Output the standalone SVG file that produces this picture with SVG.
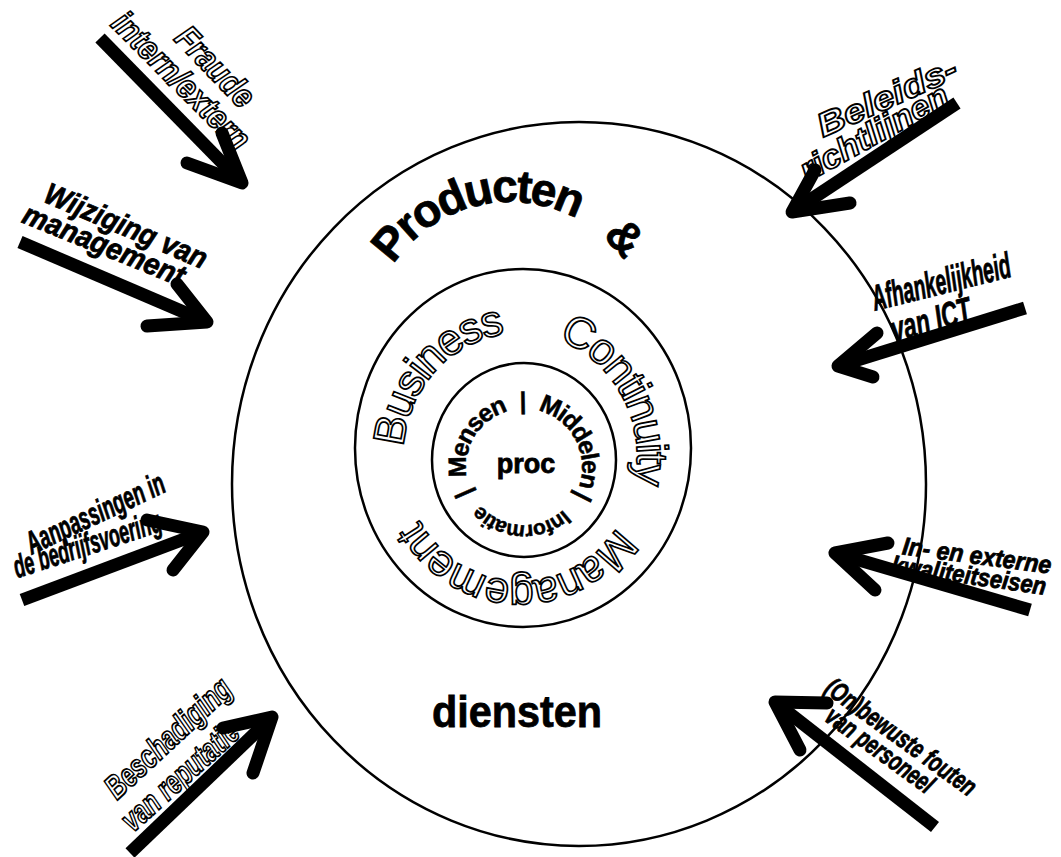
<svg xmlns="http://www.w3.org/2000/svg" width="1061" height="857" viewBox="0 0 1061 857">
  <style>
    .ring { fill: none; stroke: #000; stroke-width: 2.5; }
    .lbl { font-family: "Liberation Sans", Arial, sans-serif; font-weight: bold; font-style: italic; text-anchor: middle; }
    .solid { fill: #000; stroke: #000; stroke-width: 0.8; }
    .hollow { fill: #fff; stroke: #000; stroke-width: 1.8; }
    .bold { font-family: "Liberation Sans", Arial, sans-serif; font-weight: bold; fill: #000; stroke: #000; stroke-width: 0.8; }
    .bcm { font-family: "Liberation Sans", Arial, sans-serif; font-size: 44px; letter-spacing: -2px; fill: #fff; stroke: #000; stroke-width: 1.7; }
    .inner { font-family: "Liberation Sans", Arial, sans-serif; font-weight: bold; fill: #000; stroke: #000; stroke-width: 0.5; }
    .shaft { fill: none; stroke: #000; stroke-width: 13; stroke-linecap: butt; }
    .head { fill: none; stroke: #000; stroke-width: 13; stroke-linecap: round; stroke-linejoin: round; }
  </style>
  <defs>
    <!-- baseline arcs for the curved ring texts -->
    <path id="arcOuter" d="M370,342 A140,140 0 0 1 650,342"/>
    <path id="arcMiddle" d="M403,457 A117,124 0 1 1 637,457 A117,124 0 1 1 403,457"/>
    <path id="arcInner" d="M473.77,496 A58,58 0 1 1 574.23,438 A58,58 0 1 1 473.77,496"/>
  </defs>
  <rect width="1061" height="857" fill="#fff"/>

  <!-- outer ring: products and services -->
  <g id="ring-outer">
    <ellipse class="ring" cx="579" cy="484" rx="347" ry="362"/>
    <text class="bold" font-size="46" letter-spacing="-2.5"><textPath href="#arcOuter" startOffset="82">Producten</textPath></text>
    <text class="bold" font-size="46"><textPath href="#arcOuter" startOffset="320">&amp;</textPath></text>
    <text class="bold" x="517" y="727" font-size="44" text-anchor="middle" textLength="170" lengthAdjust="spacingAndGlyphs">diensten</text>
  </g>

  <!-- middle ring: Business Continuity Management -->
  <g id="ring-middle">
    <ellipse class="ring" cx="523" cy="448" rx="168" ry="179"/>
    <text class="bcm"><textPath href="#arcMiddle" startOffset="10">Business</textPath></text>
    <text class="bcm"><textPath href="#arcMiddle" startOffset="228">Continuity</textPath></text>
    <text class="bcm"><textPath href="#arcMiddle" startOffset="452">Management</textPath></text>
  </g>

  <!-- inner ring: people, means, information -->
  <g id="ring-inner">
    <ellipse class="ring" cx="524" cy="460" rx="92" ry="97"/>
    <text class="inner" font-size="24"><textPath href="#arcInner" startOffset="3">|</textPath></text>
    <text class="inner" font-size="25" letter-spacing="-1.5"><textPath href="#arcInner" startOffset="20">Mensen</textPath></text>
    <text class="inner" font-size="24"><textPath href="#arcInner" startOffset="117">|</textPath></text>
    <text class="inner" font-size="25" letter-spacing="-1.5"><textPath href="#arcInner" startOffset="135">Middelen</textPath></text>
    <text class="inner" font-size="24"><textPath href="#arcInner" startOffset="236">|</textPath></text>
    <text class="inner" font-size="21" letter-spacing="-1"><textPath href="#arcInner" startOffset="260">Informatie</textPath></text>
    <text class="bold" x="526" y="473" font-size="27" text-anchor="middle">proc</text>
  </g>

  <!-- threat labels -->
  <g id="label-fraude">
    <text class="lbl hollow" font-size="34" transform="translate(215,67) rotate(46)" y="11" textLength="98" lengthAdjust="spacingAndGlyphs">Fraude</text>
    <text class="lbl hollow" font-size="34" transform="translate(181,81) rotate(45)" y="11" textLength="180" lengthAdjust="spacingAndGlyphs">intern/extern</text>
  </g>
  <g id="label-wijziging">
    <text class="lbl solid" font-size="30" transform="translate(126,226) rotate(23)" y="10" textLength="174" lengthAdjust="spacingAndGlyphs">Wijziging van</text>
    <text class="lbl solid" font-size="30" transform="translate(104,245) rotate(22)" y="10" textLength="172" lengthAdjust="spacingAndGlyphs">management</text>
  </g>
  <g id="label-beleid">
    <text class="lbl hollow" font-size="33" transform="translate(887,97) rotate(-24)" y="11" textLength="150" lengthAdjust="spacingAndGlyphs">Beleids-</text>
    <text class="lbl hollow" font-size="33" transform="translate(874,133) rotate(-29)" y="11" textLength="165" lengthAdjust="spacingAndGlyphs">richtlijnen</text>
  </g>
  <g id="label-ict">
    <text class="lbl solid" font-size="36" transform="translate(941,282) rotate(-14)" y="12" textLength="142" lengthAdjust="spacingAndGlyphs">Afhankelijkheid</text>
    <text class="lbl solid" font-size="36" transform="translate(931,320) rotate(-15)" y="12" textLength="82" lengthAdjust="spacingAndGlyphs">van ICT</text>
  </g>
  <g id="label-aanpassingen">
    <text class="lbl solid" font-size="32" transform="translate(95,513) rotate(-25)" y="11" textLength="150" lengthAdjust="spacingAndGlyphs">Aanpassingen in</text>
    <text class="lbl solid" font-size="32" transform="translate(87,544) rotate(-18)" y="11" textLength="154" lengthAdjust="spacingAndGlyphs">de bedrijfsvoering</text>
  </g>
  <g id="label-kwaliteit">
    <text class="lbl solid" font-size="25" transform="translate(977,555) rotate(7.5)" y="9" textLength="150" lengthAdjust="spacingAndGlyphs">In- en externe</text>
    <text class="lbl solid" font-size="25" transform="translate(969,575) rotate(8)" y="9" textLength="156" lengthAdjust="spacingAndGlyphs">kwaliteitseisen</text>
  </g>
  <g id="label-reputatie">
    <text class="lbl hollow" font-size="33" transform="translate(168,738) rotate(-43)" y="11" textLength="160" lengthAdjust="spacingAndGlyphs">Beschadiging</text>
    <text class="lbl hollow" font-size="33" transform="translate(180,776) rotate(-42)" y="11" textLength="146" lengthAdjust="spacingAndGlyphs">van reputatie</text>
  </g>
  <g id="label-fouten">
    <text class="lbl solid" font-size="27" transform="translate(901,737) rotate(36)" y="9" textLength="180" lengthAdjust="spacingAndGlyphs">(On)bewuste fouten</text>
    <text class="lbl solid" font-size="27" transform="translate(880,750) rotate(36)" y="9" textLength="127" lengthAdjust="spacingAndGlyphs">van personeel</text>
  </g>

  <!-- arrows pointing at the rings -->
  <g id="connectors">
    <line class="shaft" x1="100" y1="38" x2="242" y2="183"/>
    <polyline class="head" points="187,163 242,183 222,133"/>

    <line class="shaft" x1="20" y1="242" x2="207" y2="322"/>
    <polyline class="head" points="147,326 207,322 177,284"/>

    <line class="shaft" x1="957" y1="103" x2="792" y2="212"/>
    <polyline class="head" points="815,170 792,212 850,203"/>

    <line class="shaft" x1="1025" y1="308" x2="838" y2="366"/>
    <polyline class="head" points="877,333 838,366 873,377"/>

    <line class="shaft" x1="22" y1="600" x2="203" y2="532"/>
    <polyline class="head" points="147,520 203,532 173,570"/>

    <line class="shaft" x1="1030" y1="610" x2="835" y2="553"/>
    <polyline class="head" points="888,543 835,553 875,590"/>

    <line class="shaft" x1="130" y1="853" x2="272" y2="717"/>
    <polyline class="head" points="223,728 272,717 253,773"/>

    <line class="shaft" x1="935" y1="827" x2="775" y2="702"/>
    <polyline class="head" points="827,703 775,702 800,750"/>
  </g>
</svg>
